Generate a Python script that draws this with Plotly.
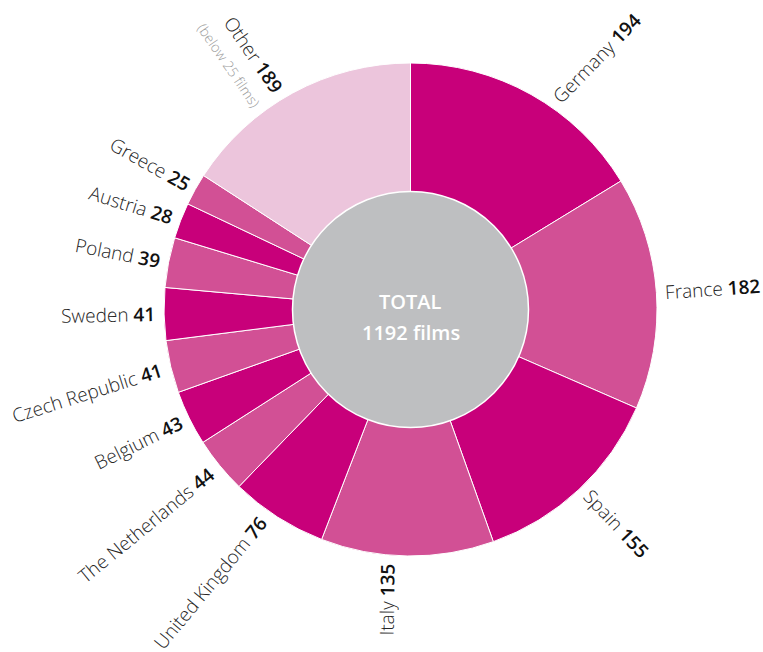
import math
import plotly.graph_objects as go

# ---------------- data ----------------
countries = ["Germany", "France", "Spain", "Italy", "United Kingdom", "The Netherlands",
             "Belgium", "Czech Republic", "Sweden", "Poland", "Austria", "Greece", "Other"]
films = [194, 182, 155, 135, 76, 44, 43, 41, 41, 39, 28, 25, 189]
other_note = "(below 25 films)"
total_label = "TOTAL"
total_unit = "films"

# ---------------- style ----------------
W, H = 763, 652
CX, CY, R = 410.5, 309.5, 246.5      # pie centre / outer radius in pixels
HOLE_R = 118                          # grey centre disc radius
DARK, MID, LIGHT = "#C8007A", "#D25095", "#ECC5DC"
GREY = "#BEBFC1"
FONT = "Open Sans"
LABEL_SIZE = 19
NOTE_SIZE = 14
GAP = 7

# small rotation / position tweaks for a few labels (degrees)
rot_nudge = {"Germany": 15, "United Kingdom": 7, "Other": -6, "Austria": -4,
             "Czech Republic": -4}
pos_nudge = {"Germany": 5.5, "United Kingdom": 2.5, "Other": -3, "Italy": 4.5,
             "Spain": -1}

colors = [DARK if i % 2 == 0 else MID for i in range(len(films) - 1)] + [LIGHT]

# approximate Open Sans advance widths (em)
CW = {
    'a': .556, 'b': .613, 'c': .480, 'd': .613, 'e': .561, 'f': .336, 'g': .546, 'h': .614,
    'i': .258, 'j': .258, 'k': .529, 'l': .258, 'm': .932, 'n': .614, 'o': .603, 'p': .613,
    'q': .613, 'r': .409, 's': .476, 't': .352, 'u': .614, 'v': .500, 'w': .781, 'x': .523,
    'y': .500, 'z': .468, 'A': .633, 'B': .647, 'C': .631, 'D': .729, 'E': .556, 'F': .519,
    'G': .726, 'H': .738, 'I': .279, 'K': .614, 'L': .519, 'N': .754, 'O': .780, 'P': .603,
    'R': .618, 'S': .549, 'T': .553, 'U': .726, ' ': .260, '(': .296, ')': .296,
}


def text_w(s, size, digit=.57):
    return sum((digit if ch.isdigit() else CW.get(ch, .56)) for ch in s) * size


def to_paper(px, py):
    return px / W, 1 - py / H


fig = go.Figure()
fig.add_trace(go.Pie(
    labels=countries, values=films, sort=False, direction="clockwise", rotation=0,
    hole=(HOLE_R - 2) / R, textinfo="none", hoverinfo="label+value",
    marker=dict(colors=colors, line=dict(color="white", width=1)),
    domain=dict(x=[(CX - R) / W, (CX + R) / W], y=[1 - (CY + R) / H, 1 - (CY - R) / H]),
    showlegend=False,
))

# grey centre disc
x0, y1 = to_paper(CX - HOLE_R, CY - HOLE_R)
x1, y0 = to_paper(CX + HOLE_R, CY + HOLE_R)
fig.add_shape(type="circle", xref="paper", yref="paper", x0=x0, x1=x1, y0=y0, y1=y1,
              fillcolor=GREY, line=dict(color="white", width=1.5), layer="above")

total = sum(films)
annotations = []
cum = 0
for name, v in zip(countries, films):
    mid = (cum + v / 2) / total * 360
    cum += v
    rot = mid + rot_nudge.get(name, 0)
    pos = mid + pos_nudge.get(name, 0)
    textangle = rot - 90 if rot < 180 else rot - 270
    line1 = f"{name} <span style='font-weight:600;color:#111'>{v}</span>"
    w = text_w(name + " ", LABEL_SIZE) + text_w(str(v), LABEL_SIZE, .59)
    text = line1
    perp = 0
    if name == "Other":
        w = max(w, text_w(other_note, NOTE_SIZE))
        text = line1 + f"<br><span style='font-size:{NOTE_SIZE}px;color:#9a9a9a'>{other_note}</span>"
        perp = 10
    ra = math.radians(rot)
    pa = math.radians(pos)
    ax = CX + (R + GAP) * math.sin(pa)
    ay = CY - (R + GAP) * math.cos(pa)
    cx = ax + (w / 2) * math.sin(ra)
    cy = ay - (w / 2) * math.cos(ra)
    # perpendicular (local "down") offset
    ta = math.radians(textangle)
    cx += perp * -math.sin(ta)
    cy += perp * math.cos(ta)
    px, py = to_paper(cx, cy)
    annotations.append(dict(
        x=px, y=py, xref="paper", yref="paper", xanchor="center", yanchor="middle",
        text=text, showarrow=False, textangle=textangle, align="right",
        font=dict(family=FONT, size=LABEL_SIZE, color="#262626", weight=300),
    ))

# centre texts
for txt, py in [(total_label, CY - 8), (f"{total} {total_unit}", CY + 23)]:
    px_, py_ = to_paper(CX, py)
    annotations.append(dict(
        x=px_, y=py_, xref="paper", yref="paper", xanchor="center", yanchor="middle",
        text=txt, showarrow=False,
        font=dict(family=FONT, size=20, color="white", weight=600),
    ))

fig.update_layout(
    width=W, height=H, margin=dict(l=0, r=0, t=0, b=0),
    paper_bgcolor="white", plot_bgcolor="white",
    annotations=annotations,
)

fig.write_html("out.html")
